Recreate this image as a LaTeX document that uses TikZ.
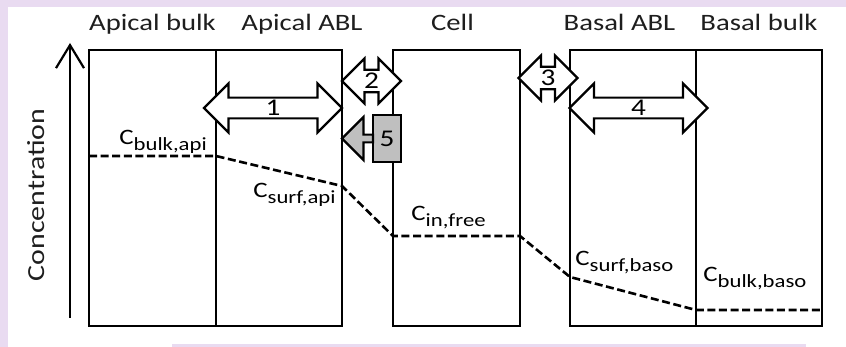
\documentclass[tikz,border=0pt]{standalone}
\usepackage{fontspec}
\setmainfont{Carlito}[FakeStretch=1.22]
\usepackage{tikz}
\usetikzlibrary{shapes.arrows,arrows.meta,positioning}

\definecolor{lavender}{RGB}{233,219,241}
\definecolor{ink}{RGB}{30,30,30}

\newcommand{\conc}[1]{C\raisebox{-3pt}{\fontsize{9.3}{10}\selectfont #1}}

\begin{document}
\begin{tikzpicture}[
    x=0.5pt, y=-0.5pt,
    comp/.style={draw, line width=1.2pt, minimum width=63.25pt, minimum height=138pt,
                 inner sep=0pt},
    hdr/.style={anchor=base, font=\fontsize{11.75}{14}\selectfont, text=ink},
    clab/.style={anchor=base west, inner sep=0pt, font=\fontsize{11}{13}\selectfont},
    flux/.style={double arrow, draw, fill=white, line width=1.1pt, double arrow tip angle=90,
                 inner sep=0pt, font=\fontsize{12}{14}\selectfont},
    bigflux/.style={flux, minimum height=69pt, minimum width=24.5pt,
                    double arrow head extend=6pt},
    smallflux/.style={flux, minimum height=29.5pt, minimum width=22.5pt,
                      double arrow head extend=4.5pt},
    prof/.style={dash pattern=on 4pt off 1.8pt, line width=1.3pt},
  ]
    % background
    \fill[lavender] (0,0) rectangle (846,347);
    \fill[white] (8,7) rectangle (846,347);
    \fill[lavender] (172,344) rectangle (806,347);
    \useasboundingbox (0,0) rectangle (846,347);

    % compartments
    \node[comp] (apibulk) at (152.5,188) {};
    \node[comp] (apiabl)  at (279,188)   {};
    \node[comp] (cell)    at (456.5,188) {};
    \node[comp] (basabl)  at (633,188)   {};
    \node[comp] (basbulk) at (759,188)   {};

    \node[hdr] (hapibulk) at ([yshift=9pt]apibulk.north)              {Apical bulk};
    \node[hdr] (hapiabl)  at ([shift={(11.5pt,9pt)}]apiabl.north)     {Apical ABL};
    \node[hdr] (hcell)    at ([shift={(-2pt,9pt)}]cell.north)         {Cell};
    \node[hdr] (hbasabl)  at ([shift={(-6.75pt,9pt)}]basabl.north)    {Basal ABL};
    \node[hdr] (hbasbulk) at ([yshift=9pt]basbulk.north)              {Basal bulk};

    % concentration axis
    \coordinate (axbot) at (70,318);
    \coordinate (axtop) at (70,43);
    \draw[line width=1.1pt, -{Straight Barb[length=11.5pt, width=14pt]}] (axbot) -- (axtop);
    \node[rotate=90, text=ink, font=\fontsize{12.25}{14}\selectfont] (conclab) at (36,195)
      {Concentration};

    % concentration profile
    \coordinate (p1) at (89,156);
    \coordinate (p2) at (216,156);
    \coordinate (p3) at (342,186);
    \coordinate (p4) at (393,236);
    \coordinate (p5) at (520,236);
    \coordinate (p6) at (570,277);
    \coordinate (p7) at (696,310);
    \coordinate (p8) at (822,310);
    \draw[prof] (p1) -- (p2) -- (p3) -- (p4) -- (p5) -- (p6) -- (p7) -- (p8);

    \node[clab] (cbulkapi)  at (119,145) {\conc{bulk,api}};
    \node[clab] (csurfapi)  at (253,198) {\conc{surf,api}};
    \node[clab] (cinfree)   at (411,221) {\conc{in,free}};
    \node[clab] (csurfbaso) at (575,266) {\conc{surf,baso}};
    \node[clab] (cbulkbaso) at (703,282) {\conc{bulk,baso}};

    % fluxes
    \node[bigflux]   (f1) at (273,108)   {1};
    \node[smallflux] (f2) at (371.5,81)  {2};
    \node[smallflux] (f3) at (548,78)    {3};
    \node[bigflux]   (f4) at (638.5,108) {4};

    \node[draw, fill=gray!50, line width=1.1pt, outer sep=0pt, inner sep=0pt,
          minimum width=14pt, minimum height=23.5pt,
          font=\fontsize{12}{14}\selectfont] (f5) at (387,138.5) {5};
    \node[single arrow, draw, fill=gray!50, line width=1.1pt, outer sep=0pt, inner sep=0pt,
          shape border rotate=180, single arrow tip angle=90,
          minimum height=15.5pt, minimum width=21.5pt, single arrow head extend=2.5pt,
          anchor=tail] (f5tip) at (f5.west) {};
  \end{tikzpicture}
\end{document}
